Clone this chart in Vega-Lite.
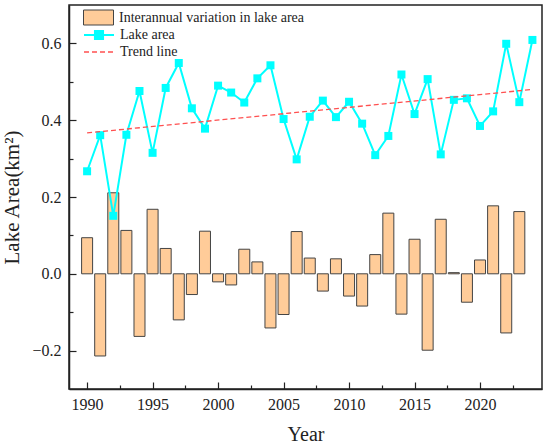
{
  "$schema": "https://vega.github.io/schema/vega-lite/v6.json",
  "description": "Lake area and its interannual variation, 1990-2024.",
  "background": "white",
  "autosize": "none",
  "padding": {"left": 69, "top": 5, "right": 8, "bottom": 58},
  "width": 473,
  "height": 384,
  "config": {
    "view": {"stroke": "#222", "strokeWidth": 1.5},
    "font": "Liberation Serif",
    "axis": {
      "domainColor": "#222",
      "domainWidth": 1.5,
      "tickColor": "#222",
      "tickWidth": 1.2,
      "grid": false,
      "labelFont": "Liberation Serif",
      "labelFontSize": 16,
      "labelColor": "#222",
      "titleFont": "Liberation Serif",
      "titleFontSize": 21,
      "titleFontWeight": "normal",
      "titleColor": "#222"
    },
    "legend": {
      "title": null,
      "orient": "none",
      "padding": 0,
      "labelFont": "Liberation Serif",
      "labelFontSize": 14,
      "labelColor": "#222",
      "labelLimit": 400,
      "labelOffset": 5,
      "symbolSize": 900
    }
  },
  "data": {
    "values": [
      {"year": 1990, "area": 0.267, "change": 0.094},
      {"year": 1991, "area": 0.361, "change": -0.214},
      {"year": 1992, "area": 0.151, "change": 0.211},
      {"year": 1993, "area": 0.362, "change": 0.113},
      {"year": 1994, "area": 0.476, "change": -0.163},
      {"year": 1995, "area": 0.315, "change": 0.168},
      {"year": 1996, "area": 0.484, "change": 0.066},
      {"year": 1997, "area": 0.549, "change": -0.12},
      {"year": 1998, "area": 0.431, "change": -0.054},
      {"year": 1999, "area": 0.378, "change": 0.111},
      {"year": 2000, "area": 0.49, "change": -0.021},
      {"year": 2001, "area": 0.472, "change": -0.029},
      {"year": 2002, "area": 0.446, "change": 0.064},
      {"year": 2003, "area": 0.509, "change": 0.031},
      {"year": 2004, "area": 0.543, "change": -0.141},
      {"year": 2005, "area": 0.403, "change": -0.106},
      {"year": 2006, "area": 0.298, "change": 0.11},
      {"year": 2007, "area": 0.409, "change": 0.041},
      {"year": 2008, "area": 0.451, "change": -0.045},
      {"year": 2009, "area": 0.408, "change": 0.039},
      {"year": 2010, "area": 0.448, "change": -0.058},
      {"year": 2011, "area": 0.391, "change": -0.084},
      {"year": 2012, "area": 0.309, "change": 0.05},
      {"year": 2013, "area": 0.359, "change": 0.158},
      {"year": 2014, "area": 0.519, "change": -0.105},
      {"year": 2015, "area": 0.416, "change": 0.09},
      {"year": 2016, "area": 0.507, "change": -0.199},
      {"year": 2017, "area": 0.311, "change": 0.142},
      {"year": 2018, "area": 0.453, "change": 0.003},
      {"year": 2019, "area": 0.457, "change": -0.074},
      {"year": 2020, "area": 0.385, "change": 0.036},
      {"year": 2021, "area": 0.423, "change": 0.177},
      {"year": 2022, "area": 0.599, "change": -0.154},
      {"year": 2023, "area": 0.447, "change": 0.162},
      {"year": 2024, "area": 0.609}
    ]
  },
  "encoding": {
    "x": {
      "field": "year",
      "type": "quantitative",
      "scale": {"domain": [1989, 2024.35], "nice": false, "zero": false},
      "axis": {
        "title": "Year",
        "titleFontSize": 20,
        "titlePadding": 12,
        "values": [1990, 1992.5, 1995, 1997.5, 2000, 2002.5, 2005, 2007.5, 2010, 2012.5, 2015, 2017.5, 2020, 2022.5],
        "format": "d",
        "labelExpr": "datum.value % 5 == 0 ? datum.label : ''",
        "tickSize": {"condition": {"test": "datum.value % 5 == 0", "value": -7}, "value": -4},
        "labelPadding": 14
      }
    }
  },
  "layer": [
    {
      "mark": {"type": "bar", "size": 11, "stroke": "#444", "strokeWidth": 1},
      "encoding": {
        "y": {
          "field": "change",
          "type": "quantitative",
          "scale": {"domain": [-0.3, 0.7], "nice": false},
          "axis": {
            "title": "Lake Area(km²)",
            "titlePadding": 9,
            "values": [-0.2, -0.1, 0, 0.1, 0.2, 0.3, 0.4, 0.5, 0.6],
            "labelExpr": "abs(round(datum.value * 10)) % 2 == 0 ? format(datum.value, '.1f') : ''",
            "tickSize": {"condition": {"test": "abs(round(datum.value * 10)) % 2 == 0", "value": -7}, "value": -4},
            "labelPadding": 15
          }
        },
        "fill": {
          "datum": "Interannual variation in lake area",
          "scale": {"range": ["#FFCC99"]},
          "legend": {
            "legendX": 14,
            "legendY": -3,
            "labelFont": "Liberation Serif",
            "labelFontSize": 14,
            "symbolType": "M-1,-0.5H1V0.5H-1Z",
            "symbolStrokeColor": "#444",
            "symbolStrokeWidth": 1,
            "encode": {
              "symbols": {"update": {"stroke": {"value": "#444"}, "strokeWidth": {"value": 1}}},
              "labels": {"update": {"font": {"value": "Liberation Serif"}}}
            }
          }
        }
      }
    },
    {
      "mark": {"type": "rule", "color": "#222", "strokeWidth": 1.2},
      "encoding": {"y": {"datum": 0}}
    },
    {
      "mark": {"type": "line", "strokeWidth": 2},
      "encoding": {
        "y": {"field": "area", "type": "quantitative"},
        "stroke": {
          "datum": "Lake area",
          "scale": {"range": ["#00FFFF"]},
          "legend": {
            "legendX": 14,
            "legendY": 14,
            "labelFont": "Liberation Serif",
            "symbolType": "M-1,0H1M-0.27,-0.27H0.27V0.27H-0.27Z",
            "symbolStrokeWidth": 2,
            "symbolFillColor": "#00FFFF",
            "encode": {"symbols": {"update": {"fill": {"value": "#00FFFF"}, "strokeWidth": {"value": 2}}}}
          }
        }
      }
    },
    {
      "mark": {"type": "point", "shape": "square", "filled": true, "size": 64, "opacity": 1, "color": "#00FFFF"},
      "encoding": {
        "y": {"field": "area", "type": "quantitative"}
      }
    },
    {
      "data": {
        "values": [
          {"year": 1990, "trend": 0.367},
          {"year": 2024, "trend": 0.48}
        ]
      },
      "mark": {"type": "line", "strokeWidth": 1.3, "color": "#FF5050"},
      "encoding": {
        "y": {"field": "trend", "type": "quantitative"},
        "strokeDash": {
          "datum": "Trend line",
          "scale": {"range": [[5, 3]]},
          "legend": {
            "legendX": 14,
            "legendY": 31,
            "labelFont": "Liberation Serif",
            "symbolType": "M-1,0H1",
            "symbolStrokeColor": "#FF5050",
            "symbolStrokeWidth": 1.3,
            "encode": {"symbols": {"update": {"stroke": {"value": "#FF5050"}}}}
          }
        }
      }
    }
  ]
}
